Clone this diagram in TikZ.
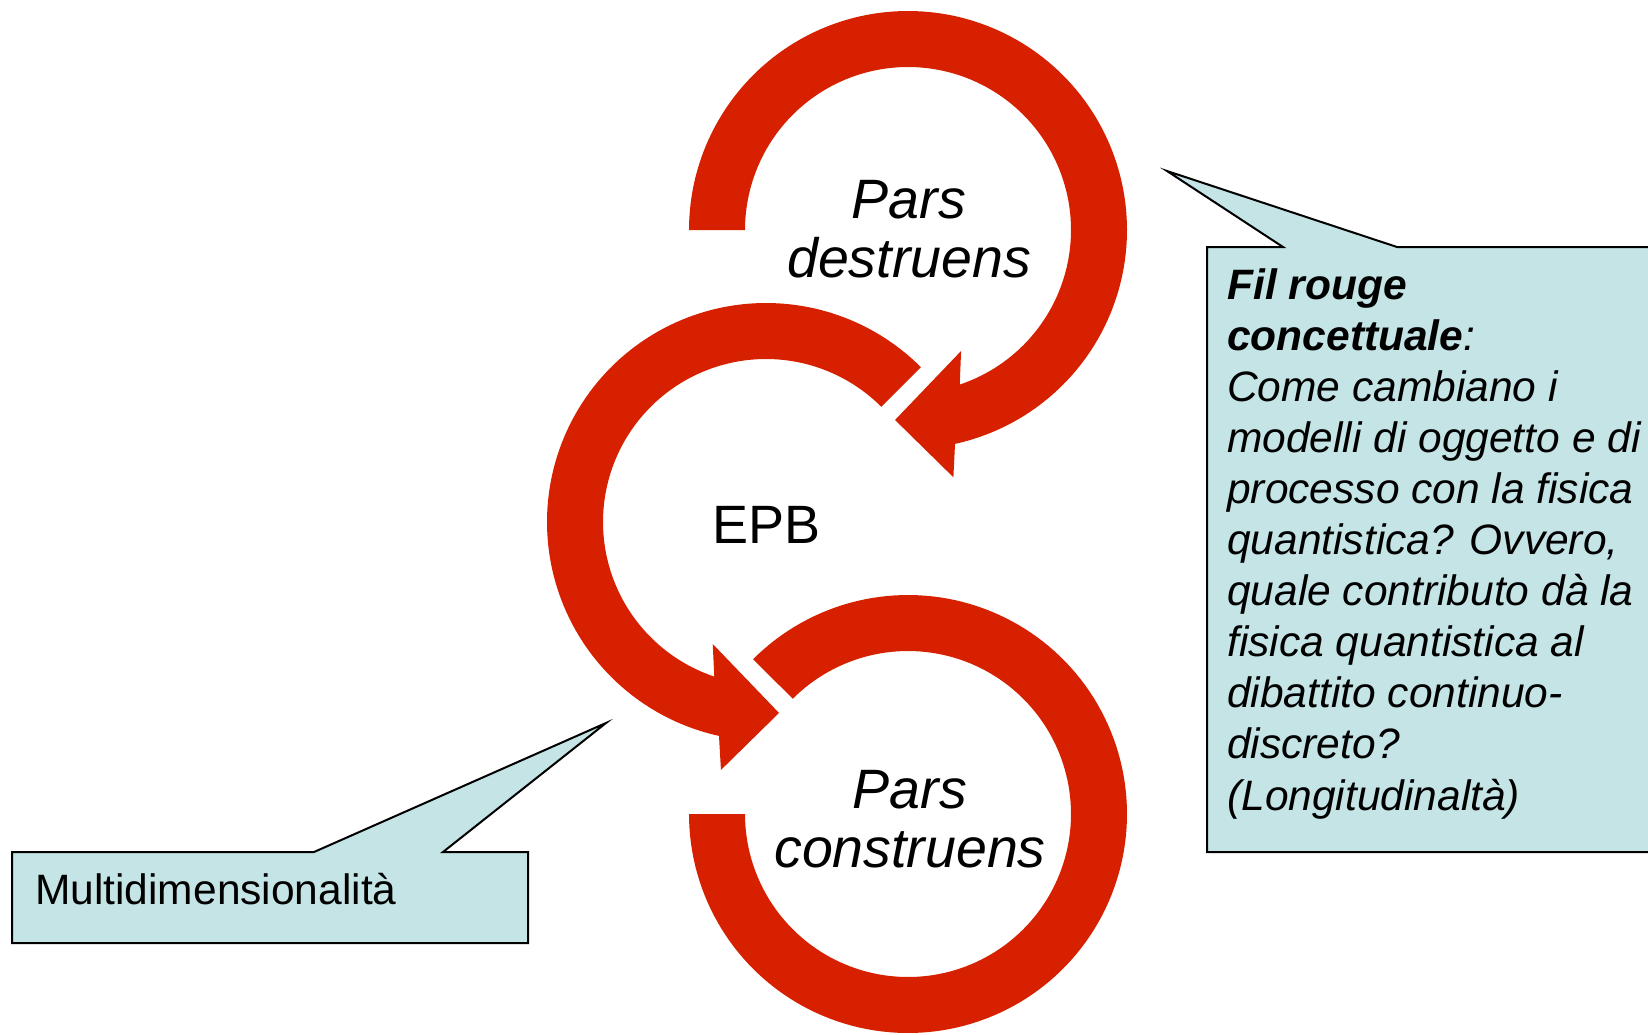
\documentclass[tikz,border=0pt]{standalone}
\usepackage{fontspec}
\setmainfont{Liberation Sans}
\definecolor{arrowred}{RGB}{214,32,0}
\definecolor{calloutfill}{RGB}{196,228,230}
\begin{document}
\begin{tikzpicture}[x=1pt,y=-1pt,
  ring/.style={fill=arrowred, draw=none},
  callout/.style={fill=calloutfill, draw=black, line width=2pt, line join=miter},
  bigit/.style={font=\fontsize{55.5}{59}\selectfont\itshape, align=center, inner sep=0pt},
  bigup/.style={font=\fontsize{54}{59}\selectfont, inner sep=0pt},
  notetext/.style={font=\fontsize{42.5}{51.1}\selectfont, align=left, inner sep=0pt}]
\useasboundingbox (0,0) rectangle (1648,1034);
\fill[white] (0,0) rectangle (1648,1034);

\coordinate (c1) at (908,230);
\coordinate (c2) at (766,522);
\coordinate (c3) at (908,814);

% top ring: Pars destruens
\begin{scope}[shift={(c1)}]
\fill[ring] plot[domain=180:437.6,samples=160] (\x:219)
  -- (79.6:251.4) -- (93.9:190.4) -- (66.3:132.1) -- (71.5:163)
  -- plot[domain=431.5:180,samples=160] (\x:163) -- cycle;
\end{scope}

% middle ring: EPB
\begin{scope}[shift={(c2)}]
\fill[ring] plot[domain=-45:-257.6,samples=160] (\x:219)
  -- (-259.7:252) -- (86.1:191.4) -- (113.6:133.1) -- (-251.5:163)
  -- plot[domain=-251.5:-45,samples=160] (\x:163) -- cycle;
\end{scope}

% bottom ring: Pars construens
\begin{scope}[shift={(c3)}]
\fill[ring] plot[domain=-135:180,samples=160] (\x:219)
  -- plot[domain=180:-135,samples=160] (\x:163) -- cycle;
\end{scope}

\node[bigit, anchor=base] (destruens) at (909,277) {Pars\\destruens};
\node[bigup, anchor=base] (epb) at (766.5,543) {EPB};
\node[bigit, anchor=base] (construens) at (910,867) {Pars\\construens};

% right callout
\coordinate (rtip) at (1167,171);
\draw[callout] (1207,247) -- (1283,247) -- (rtip) -- (1397,247) -- (1662,247)
  -- (1662,852) -- (1207,852) -- cycle;
\node[notetext, anchor=base west] (filrouge) at (1227,810)
  {\itshape\bfseries Fil rouge\\
   \itshape\bfseries concettuale\mdseries:\\
   \itshape Come cambiano i\\
   \itshape modelli di oggetto e di\\
   \itshape processo con la fisica\\
   \itshape quantistica? Ovvero,\\
   \itshape quale contributo dà la\\
   \itshape fisica quantistica al\\
   \itshape dibattito continuo-\\
   \itshape discreto?\\
   \itshape (Longitudinaltà)};

% left callout
\coordinate (ltip) at (606,723);
\draw[callout] (12,852) -- (314,852) -- (ltip) -- (443,852) -- (528,852)
  -- (528,943) -- (12,943) -- cycle;
\node[notetext, anchor=base west] (multi) at (35,904) {Multidimensionalità};
\end{tikzpicture}
\end{document}
